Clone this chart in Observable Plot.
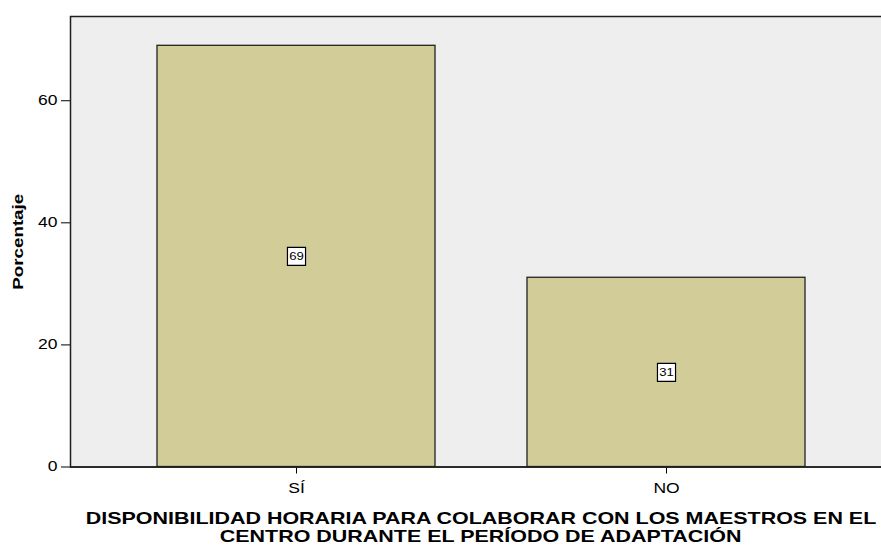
<!DOCTYPE html>
<html>
<head>
<meta charset="utf-8">
<script src="https://cdn.jsdelivr.net/npm/d3@7"></script>
<script src="https://cdn.jsdelivr.net/npm/@observablehq/plot@0.6"></script>
<style>
  html, body { margin: 0; padding: 0; background: #ffffff; overflow: hidden; }
  #wrap { width: 892px; }
  #title {
    margin-top: 9px;
    padding-left: 70px;
    width: 822px;
    text-align: center;
    font-family: "Liberation Sans", Arial, sans-serif;
    font-weight: bold;
    font-size: 16.5px;
    line-height: 18px;
    color: #000;
  }
  #title span { display: inline-block; transform: scaleX(1.3); transform-origin: center; white-space: nowrap; }
</style>
</head>
<body>
<div id="wrap">
  <div id="chart"></div>
  <div id="title"><span>DISPONIBILIDAD HORARIA PARA COLABORAR CON LOS MAESTROS EN EL</span><br><span>CENTRO DURANTE EL PERÍODO DE ADAPTACIÓN</span></div>
</div>
<script>
const categories = ["SÍ", "NO"];
const percentages = [69, 31];
const yTicks = [0, 20, 40, 60];
const yLabel = "Porcentaje";

const data = categories.map((c, i) => ({cat: c, pct: percentages[i]}));

const chart = Plot.plot({
  width: 892,
  height: 500,
  marginTop: 16,
  marginBottom: 33.5,
  marginLeft: 70,
  marginRight: 0,
  style: {fontFamily: "'Liberation Sans', Arial, sans-serif", fontSize: "14px", color: "#000", background: "#ffffff"},
  x: {domain: categories, paddingInner: 0.25, paddingOuter: 0.2358, label: null, tickSize: 7, tickPadding: 9},
  y: {domain: [0, 73.8], ticks: yTicks, label: null, tickSize: 9, tickPadding: 4},
  marks: [
    Plot.frame({fill: "#eeeeee", stroke: "#1e1e1e", strokeWidth: 1.5}),
    Plot.barY(data, {x: "cat", y: "pct", fill: "#d2cd98", stroke: "#222222", strokeWidth: 1.3}),
    Plot.ruleY([0], {stroke: "#1e1e1e", strokeWidth: 1.5}),
    Plot.dot(data, {x: "cat", y: d => d.pct / 2, symbol: "square", r: 10.2, fill: "#ffffff", stroke: "#000000", strokeWidth: 1.2}),
    Plot.text(data, {x: "cat", y: d => d.pct / 2, text: d => String(d.pct), fontSize: 10.5, fill: "#000"}),
    Plot.text([yLabel], {frameAnchor: "left", textAnchor: "middle", dx: -52, rotate: -90, fontWeight: "bold", fontSize: 15, fill: "#000"})
  ]
});
document.getElementById("chart").appendChild(chart);
// the reference's glyphs are horizontally stretched; widen every text to match
chart.querySelectorAll("text").forEach(t => {
  const len = t.getComputedTextLength();
  if (len > 0) {
    t.setAttribute("textLength", (len * 1.25).toFixed(2));
    t.setAttribute("lengthAdjust", "spacingAndGlyphs");
  }
});
</script>
</body>
</html>
